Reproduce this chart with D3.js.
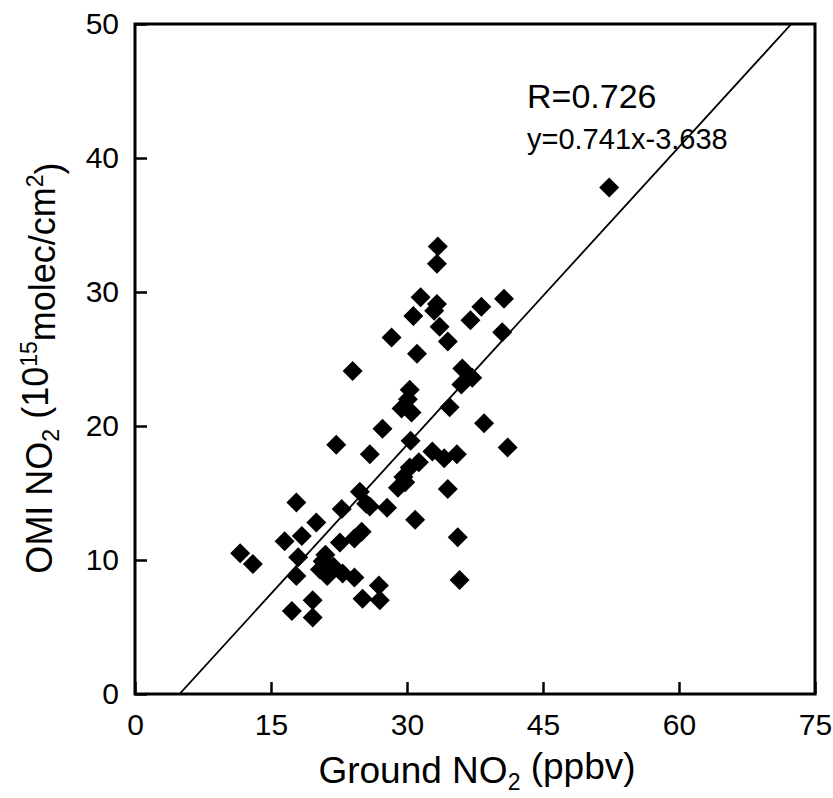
<!DOCTYPE html>
<html>
<head>
<meta charset="utf-8">
<script src="https://cdn.jsdelivr.net/npm/d3@7/dist/d3.min.js"></script>
<style>
html,body{margin:0;padding:0;background:#fff;}
svg{display:block;font-family:"Liberation Sans",Arial,sans-serif;}
</style>
</head>
<body>
<svg id="chart" width="833" height="798"></svg>
<script>
// Data
const groundNO2 = [52.3,33.4,33.3,31.5,33.3,33.0,40.7,38.2,37.0,30.7,33.6,40.5,28.3,34.5,31.1,24.0,36.1,37.2,36.0,30.3,30.1,29.4,30.5,34.7,38.5,41.1,27.3,22.2,25.9,30.4,32.8,34.1,35.5,31.3,30.3,29.6,29.0,34.5,24.8,25.5,27.8,22.8,30.9,25.0,35.6,24.2,17.8,20.0,18.4,16.5,22.6,11.6,13.0,18.0,21.0,20.7,17.8,20.4,21.2,21.9,22.9,24.2,26.9,35.8,25.1,27.0,19.6,17.3,19.6,29.8,25.9];
const omiNO2    = [37.8,33.4,32.1,29.6,29.1,28.6,29.5,28.9,27.9,28.2,27.4,27.0,26.6,26.3,25.4,24.1,24.3,23.6,23.1,22.7,22.0,21.3,21.0,21.4,20.2,18.4,19.8,18.6,17.9,18.9,18.1,17.6,17.9,17.3,16.9,16.2,15.4,15.3,15.1,14.2,13.9,13.8,13.0,12.1,11.7,11.6,14.3,12.8,11.8,11.4,11.3,10.5,9.7,10.2,10.4,9.9,8.8,9.3,8.8,9.5,9.0,8.7,8.1,8.5,7.1,7.0,7.0,6.2,5.7,15.8,14.0];
const xTicks = [0,15,30,45,60,75];
const yTicks = [0,10,20,30,40,50];
const fitSlope = 0.741;
const fitIntercept = -3.638;
const rText = "R=0.726";
const eqText = "y=0.741x-3.638";

const svg = d3.select("#chart");
const x = d3.scaleLinear().domain([0,75]).range([135,815]);
const y = d3.scaleLinear().domain([0,50]).range([694,24]);

// clip
svg.append("clipPath").attr("id","plotclip").append("rect")
  .attr("x",x(0)).attr("y",y(50)).attr("width",x(75)-x(0)).attr("height",y(0)-y(50));

// axes with inward ticks
const xAxis = d3.axisBottom(x).tickValues(xTicks).tickSize(-12).tickPadding(20).tickFormat(d3.format("d"));
const yAxis = d3.axisLeft(y).tickValues(yTicks).tickSize(-12).tickPadding(16).tickFormat(d3.format("d"));

const gx = svg.append("g").attr("transform",`translate(0,${y(0)})`).call(xAxis);
const gy = svg.append("g").attr("transform",`translate(${x(0)},0)`).call(yAxis);
[gx,gy].forEach(g=>{
  g.select(".domain").remove();
  g.selectAll(".tick line").attr("stroke","#000").attr("stroke-width",2.5);
  g.selectAll(".tick text").attr("fill","#000").style("font-size","30px").style("font-family","'Liberation Sans',Arial,sans-serif");
});
gx.selectAll(".tick text").attr("dy","0.71em");

// frame
svg.append("rect").attr("x",x(0)).attr("y",y(50)).attr("width",x(75)-x(0)).attr("height",y(0)-y(50))
  .attr("fill","none").attr("stroke","#000").attr("stroke-width",3);

// regression line
const x0 = (0 - fitIntercept)/fitSlope, x1 = (50 - fitIntercept)/fitSlope;
svg.append("line").attr("clip-path","url(#plotclip)")
  .attr("x1",x(x0)).attr("y1",y(fitSlope*x0+fitIntercept))
  .attr("x2",x(x1)).attr("y2",y(fitSlope*x1+fitIntercept))
  .attr("stroke","#000").attr("stroke-width",1.8);

// points (diamonds)
const pts = groundNO2.map((g,i)=>({g,o:omiNO2[i]}));
const r = 10;
svg.append("g").selectAll("path").data(pts).join("path")
  .attr("d",d=>{const cx=x(d.g), cy=y(d.o); return `M${cx},${cy-r}L${cx+r},${cy}L${cx},${cy+r}L${cx-r},${cy}Z`;})
  .attr("fill","#000");

// annotations
svg.append("text").attr("x",527).attr("y",108).style("font-size","34px").text(rText);
svg.append("text").attr("x",527).attr("y",149).style("font-size","29px").text(eqText);

// x title
const xt = svg.append("text").attr("x",477).attr("y",783).attr("text-anchor","middle").style("font-size","37px");
xt.append("tspan").text("Ground NO");
xt.append("tspan").attr("dy","0.3em").style("font-size","23px").text("2");
xt.append("tspan").attr("dy","-0.3em").text(" (ppbv)");

// y title
const yt = svg.append("text").attr("transform","translate(52,368) rotate(-90)").attr("text-anchor","middle").style("font-size","36px");
yt.append("tspan").text("OMI NO");
yt.append("tspan").attr("dy","0.3em").style("font-size","23px").text("2");
yt.append("tspan").attr("dy","-0.3em").text(" (10");
yt.append("tspan").attr("dy","-0.5em").style("font-size","23px").text("15");
yt.append("tspan").attr("dy","0.5em").text("molec/cm");
yt.append("tspan").attr("dy","-0.5em").style("font-size","23px").text("2");
yt.append("tspan").attr("dy","0.5em").text(")");
</script>
</body>
</html>
